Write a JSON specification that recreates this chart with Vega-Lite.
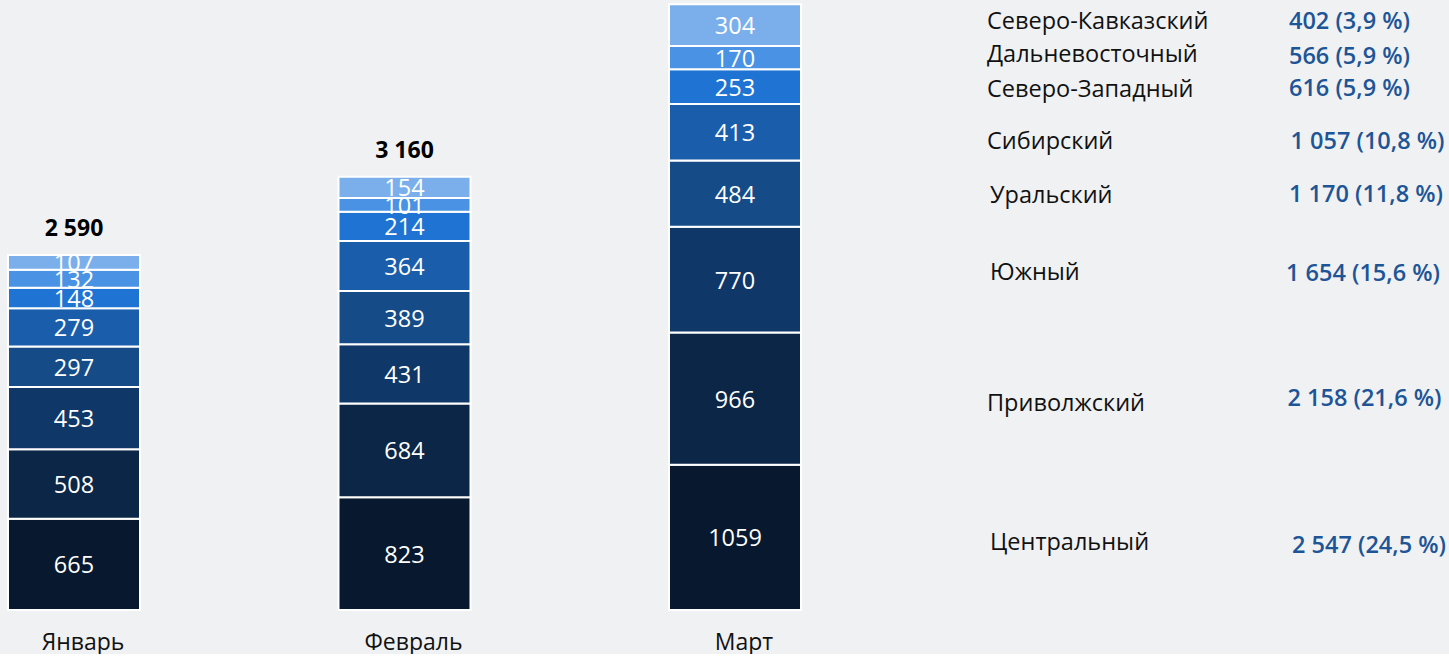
{
  "$schema": "https://vega.github.io/schema/vega-lite/v6.json",
  "background": "#f0f1f3",
  "padding": 0,
  "spacing": 0,
  "config": {
    "view": {"stroke": null},
    "font": "Open Sans",
    "text": {"font": "Open Sans"}
  },
  "datasets": {
    "segments": [
      {"month": "Январь", "region": "Центральный", "rank": 1, "value": 665},
      {"month": "Январь", "region": "Приволжский", "rank": 2, "value": 508},
      {"month": "Январь", "region": "Южный", "rank": 3, "value": 453},
      {"month": "Январь", "region": "Уральский", "rank": 4, "value": 297},
      {"month": "Январь", "region": "Сибирский", "rank": 5, "value": 279},
      {"month": "Январь", "region": "Северо-Западный", "rank": 6, "value": 148},
      {"month": "Январь", "region": "Дальневосточный", "rank": 7, "value": 132},
      {"month": "Январь", "region": "Северо-Кавказский", "rank": 8, "value": 107},
      {"month": "Февраль", "region": "Центральный", "rank": 1, "value": 823},
      {"month": "Февраль", "region": "Приволжский", "rank": 2, "value": 684},
      {"month": "Февраль", "region": "Южный", "rank": 3, "value": 431},
      {"month": "Февраль", "region": "Уральский", "rank": 4, "value": 389},
      {"month": "Февраль", "region": "Сибирский", "rank": 5, "value": 364},
      {"month": "Февраль", "region": "Северо-Западный", "rank": 6, "value": 214},
      {"month": "Февраль", "region": "Дальневосточный", "rank": 7, "value": 101},
      {"month": "Февраль", "region": "Северо-Кавказский", "rank": 8, "value": 154},
      {"month": "Март", "region": "Центральный", "rank": 1, "value": 1059},
      {"month": "Март", "region": "Приволжский", "rank": 2, "value": 966},
      {"month": "Март", "region": "Южный", "rank": 3, "value": 770},
      {"month": "Март", "region": "Уральский", "rank": 4, "value": 484},
      {"month": "Март", "region": "Сибирский", "rank": 5, "value": 413},
      {"month": "Март", "region": "Северо-Западный", "rank": 6, "value": 253},
      {"month": "Март", "region": "Дальневосточный", "rank": 7, "value": 170},
      {"month": "Март", "region": "Северо-Кавказский", "rank": 8, "value": 304}
    ],
    "totals": [
      {"month": "Январь", "total": 2590, "label": "2 590"},
      {"month": "Февраль", "total": 3160, "label": "3 160"}
    ],
    "names": [
      {"text": "Северо-Кавказский", "col": 0, "pos": 4290},
      {"text": "Дальневосточный", "col": 0, "pos": 4049},
      {"text": "Северо-Западный", "col": 0, "pos": 3793},
      {"text": "Сибирский", "col": 0, "pos": 3414},
      {"text": "Уральский", "col": 0.01, "pos": 3020},
      {"text": "Южный", "col": 0.01, "pos": 2458},
      {"text": "Приволжский", "col": 0, "pos": 1503},
      {"text": "Центральный", "col": 0.01, "pos": 489}
    ],
    "values": [
      {"text": "402 (3,9 %)", "col": 1, "pos": 4290},
      {"text": "566 (5,9 %)", "col": 1, "pos": 4034},
      {"text": "616 (5,9 %)", "col": 1, "pos": 3801},
      {"text": "1 057 (10,8 %)", "col": 1.005, "pos": 3414},
      {"text": "1 170 (11,8 %)", "col": 1, "pos": 3027},
      {"text": "1 654 (15,6 %)", "col": 0.99, "pos": 2451},
      {"text": "2 158 (21,6 %)", "col": 0.995, "pos": 1539},
      {"text": "2 547 (24,5 %)", "col": 1.01, "pos": 467}
    ]
  },
  "hconcat": [
    {
      "width": 809,
      "height": 610,
      "layer": [
        {
          "data": {"name": "segments"},
          "mark": {"type": "bar", "stroke": "white", "strokeWidth": 2},
          "encoding": {
            "x": {"field": "month", "type": "nominal", "sort": ["Январь", "Февраль", "Март"],
                  "scale": {"paddingInner": 0.6006, "paddingOuter": 0.0242},
                  "axis": {"title": null, "labelAngle": 0, "domain": false, "ticks": false, "labelFontSize": 23, "labelColor": "#111111", "labelPadding": 21, "labelOffset": 9, "labelFont": "Open Sans"}},
            "y": {"field": "value", "type": "quantitative", "stack": "zero", "scale": {"domain": [0, 4450], "nice": false}, "axis": null},
            "order": {"field": "rank", "type": "quantitative"},
            "color": {"field": "region", "type": "nominal", "legend": null,
                      "scale": {"domain": ["Центральный", "Приволжский", "Южный", "Уральский", "Сибирский", "Северо-Западный", "Дальневосточный", "Северо-Кавказский"],
                                "range": ["#08182f", "#0b2646", "#0f3767", "#154c88", "#1a5eab", "#1f74d3", "#4a92e3", "#7bafec"]}}
          }
        },
        {
          "data": {"name": "segments"},
          "mark": {"type": "text", "color": "white", "fontSize": 23.5, "baseline": "middle", "dy": 2},
          "encoding": {
            "x": {"field": "month", "type": "nominal", "sort": ["Январь", "Февраль", "Март"]},
            "y": {"field": "value", "type": "quantitative", "stack": "zero", "bandPosition": 0.5},
            "order": {"field": "rank", "type": "quantitative"},
            "text": {"field": "value", "type": "nominal"}
          }
        },
        {
          "data": {"name": "totals"},
          "mark": {"type": "text", "color": "#000000", "fontSize": 23, "fontWeight": "bold", "baseline": "middle", "dy": -26},
          "encoding": {
            "x": {"field": "month", "type": "nominal", "sort": ["Январь", "Февраль", "Март"]},
            "y": {"field": "total", "type": "quantitative"},
            "text": {"field": "label", "type": "nominal"}
          }
        }
      ]
    },
    {
      "width": 640,
      "height": 610,
      "layer": [
        {
          "data": {"name": "names"},
          "mark": {"type": "text", "align": "left", "baseline": "middle", "fontSize": 23.5, "color": "#111111"},
          "encoding": {
            "x": {"field": "col", "type": "quantitative", "scale": {"domain": [0, 1], "range": [178, 480]}, "axis": null},
            "y": {"field": "pos", "type": "quantitative", "scale": {"domain": [0, 4450], "nice": false}, "axis": null},
            "text": {"field": "text", "type": "nominal"}
          }
        },
        {
          "data": {"name": "values"},
          "mark": {"type": "text", "align": "left", "baseline": "middle", "fontSize": 23.5, "fontWeight": 600, "color": "#1d5596"},
          "encoding": {
            "x": {"field": "col", "type": "quantitative"},
            "y": {"field": "pos", "type": "quantitative"},
            "text": {"field": "text", "type": "nominal"}
          }
        }
      ]
    }
  ]
}
